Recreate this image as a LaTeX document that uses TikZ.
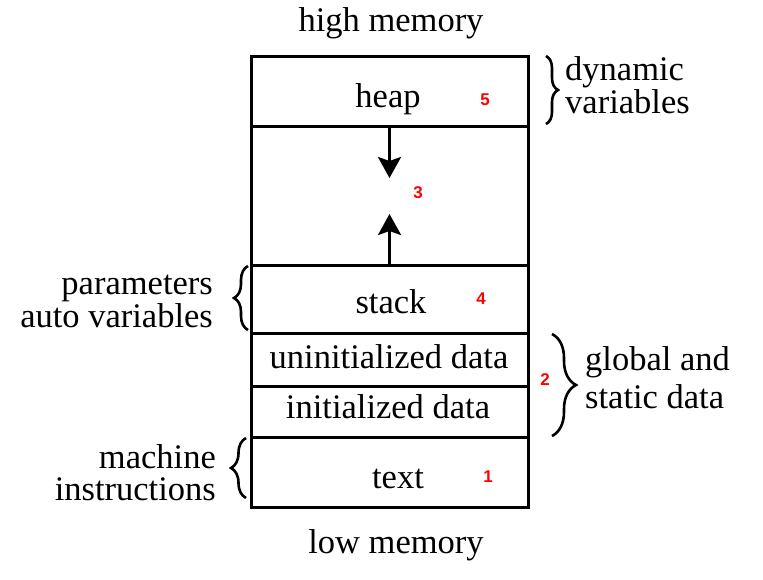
\documentclass[tikz,border=0pt]{standalone}
\usepackage{fontspec}
\setmainfont{Liberation Serif}
\newfontfamily\numfont{Liberation Sans}
\usetikzlibrary{arrows.meta,decorations.pathreplacing}
\tikzset{
  row/.style={draw,line width=3pt,minimum width=277pt,inner sep=0pt,outer sep=0pt},
  lbl/.style={anchor=base,inner sep=0pt,font=\fontsize{34.5}{40}\selectfont},
  side/.style={inner sep=0pt,font=\fontsize{34.5}{30.5}\selectfont},
  lbll/.style={side,align=right,anchor=base east},
  lblr/.style={side,align=left,anchor=base west},
  num/.style={inner sep=0pt,text=red,font=\numfont\bfseries\fontsize{17}{20}\selectfont},
  arr/.style={line width=3pt,-{Stealth[length=21pt,width=23pt,inset=4pt]}},
  brc/.style={decorate,line width=2.6pt,decoration={brace,amplitude=#1}}
}
\begin{document}
\begin{tikzpicture}[x=1pt,y=-1pt]
\useasboundingbox (0,0) rectangle (763,579);
% rows
\node[row,minimum height=70pt]  (heap)   at (389.5,91)    {};
\node[row,minimum height=139pt] (gap)    at (389.5,195.5) {};
\node[row,minimum height=68pt]  (stack)  at (389.5,299)   {};
\node[row,minimum height=53pt]  (uninit) at (389.5,359.5) {};
\node[row,minimum height=51pt]  (init)   at (389.5,411.5) {};
\node[row,minimum height=70pt]  (text)   at (389.5,472)   {};
% labels inside
\node[lbl] (lheap)   at (388,107) {heap};
\node[lbl] (lstack)  at (391,313) {stack};
\node[lbl] (luninit) at (389,368) {uninitialized data};
\node[lbl] (linit)   at (388,418) {initialized data};
\node[lbl] (ltext)   at (398,488) {text};
\node[lbl] (lhigh)   at (391,31)  {high memory};
\node[lbl] (llow)    at (396,553) {low memory};
% numbers
\node[num] (n5) at (485,100) {5};
\node[num] (n3) at (418,193) {3};
\node[num] (n4) at (481,299) {4};
\node[num] (n2) at (545,380) {2};
\node[num] (n1) at (488,477) {1};
% arrows
\coordinate (dtip) at (389.5,178);
\coordinate (utip) at (389.5,214);
\draw[arr] (heap.south) -- (dtip);
\draw[arr] (stack.north) -- (utip);
% braces
\coordinate (b1a) at (546,56);  \coordinate (b1b) at (546,124);
\draw[brc=12pt] (b1a) -- (b1b);
\coordinate (b2a) at (552,334); \coordinate (b2b) at (552,436);
\draw[brc=24pt] (b2a) -- (b2b);
\coordinate (b3a) at (248,330); \coordinate (b3b) at (248,266);
\draw[brc=14pt] (b3a) -- (b3b);
\coordinate (b4a) at (246,498); \coordinate (b4b) at (246,438);
\draw[brc=15pt] (b4a) -- (b4b);
% side labels
\node[lblr] (dyn) at (565,113)  {dynamic\\variables};
\node[lblr,font=\fontsize{34.5}{38}\selectfont] (glb) at (585,408) {global and\\static data};
\node[lbll] (par) at (213,327) {parameters\\auto variables};
\node[lbll,font=\fontsize{34.5}{32}\selectfont] (mac) at (216,500) {machine\\instructions};
\end{tikzpicture}
\end{document}
